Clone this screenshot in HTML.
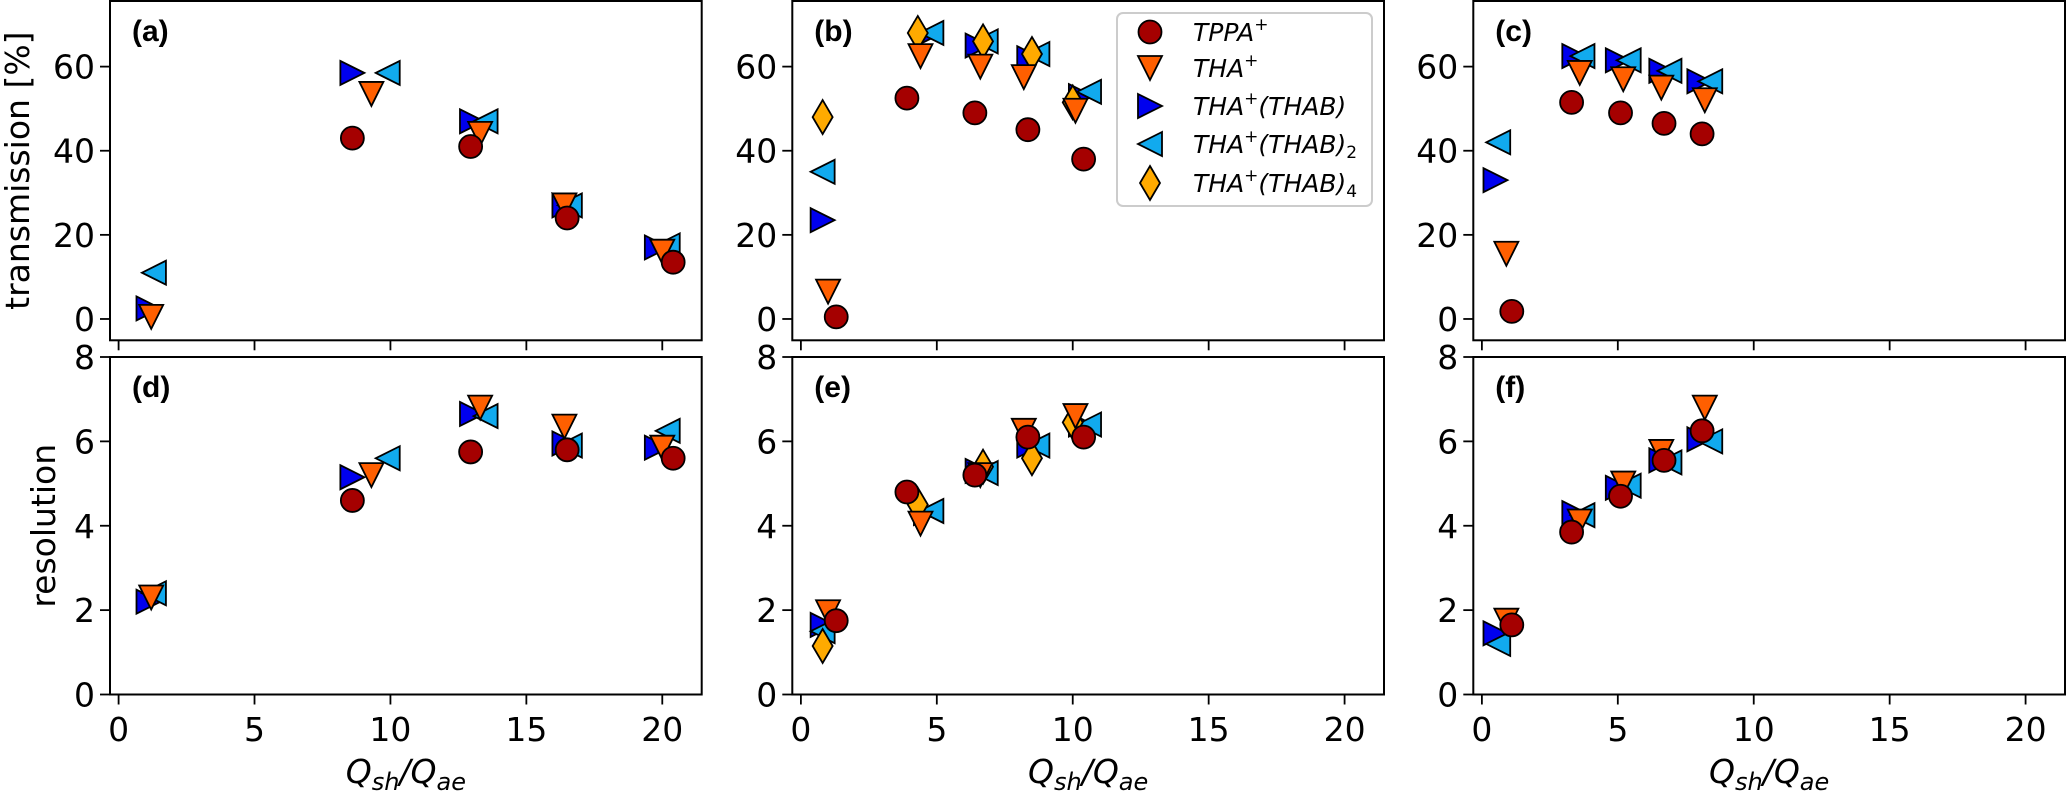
<!DOCTYPE html>
<html><head><meta charset="utf-8">
<style>
html,body{margin:0;padding:0;background:#fff;}
svg{display:block;font-family:"DejaVu Sans","Liberation Sans",sans-serif;}
</style></head>
<body>
<svg id="fig" width="2067" height="792" viewBox="0 0 2067 792" xmlns="http://www.w3.org/2000/svg"></svg>
<script>
// ---- data ----
const seriesNames = ["TPPA", "THA", "THA(THAB)", "THA(THAB)2", "THA(THAB)4"];
const xTicks = [0, 5, 10, 15, 20];
const transTicks = [0, 20, 40, 60];
const resTicks = [0, 2, 4, 6, 8];
// panel a/d
const aX_TPPA = [8.6, 12.95, 16.5, 20.4];
const aT_TPPA = [43, 41, 24, 13.5];
const aR_TPPA = [4.6, 5.75, 5.8, 5.6];
const aX_THA = [1.2, 9.3, 13.3, 16.4, 20.0];
const aT_THA = [0.5, 53.5, 44, 27, 16];
const aR_THA = [2.3, 5.2, 6.8, 6.35, 5.85];
const aX_B1 = [1.1, 8.6, 13.0, 16.4, 19.8];
const aT_B1 = [2.5, 58.5, 47, 27, 17];
const aR_B1 = [2.2, 5.15, 6.65, 5.95, 5.85];
const aX_B2 = [1.3, 9.9, 13.5, 16.6, 20.2];
const aT_B2 = [11, 58.5, 47, 27, 17.5];
const aR_B2 = [2.4, 5.6, 6.6, 5.9, 6.25];
// panel b/e
const bX_TPPA = [1.3, 3.9, 6.4, 8.35, 10.4];
const bT_TPPA = [0.5, 52.5, 49, 45, 38];
const bR_TPPA = [1.75, 4.8, 5.2, 6.1, 6.1];
const bX_THA = [1.0, 4.4, 6.6, 8.2, 10.1];
const bT_THA = [6.5, 62.5, 60, 57.5, 49.5];
const bR_THA = [1.95, 4.05, 5.2, 6.25, 6.6];
const bX_B1 = [0.8, 4.6, 6.5, 8.4, 10.3];
const bT_B1 = [23.5, 67.5, 65, 62, 53];
const bR_B1 = [1.65, 4.3, 5.3, 5.9, 6.4];
const bX_B2 = [0.8, 4.8, 6.8, 8.7, 10.6];
const bT_B2 = [35, 68, 66, 63, 54];
const bR_B2 = [1.5, 4.35, 5.25, 5.9, 6.4];
const bX_B4 = [0.8, 4.3, 6.7, 8.5, 10.0];
const bT_B4 = [48, 68, 66, 63, 51.5];
const bR_B4 = [1.15, 4.5, 5.4, 5.6, 6.45];
// panel c/f
const cX_TPPA = [1.1, 3.3, 5.1, 6.7, 8.1];
const cT_TPPA = [1.8, 51.5, 49, 46.5, 44];
const cR_TPPA = [1.65, 3.85, 4.7, 5.55, 6.25];
const cX_THA = [0.9, 3.6, 5.2, 6.6, 8.2];
const cT_THA = [15.5, 58.5, 57, 55, 52];
const cR_THA = [1.75, 4.1, 5.0, 5.75, 6.8];
const cX_B1 = [0.5, 3.4, 5.0, 6.6, 8.0];
const cT_B1 = [33, 62.5, 61.5, 59, 56.5];
const cR_B1 = [1.45, 4.3, 4.9, 5.55, 6.05];
const cX_B2 = [0.6, 3.7, 5.4, 6.9, 8.4];
const cT_B2 = [42, 62.5, 61.5, 59, 56.5];
const cR_B2 = [1.2, 4.25, 4.95, 5.5, 6.0];

const NS = "http://www.w3.org/2000/svg";
const svg = document.getElementById("fig");
function mk(tag, attrs, parent) {
  const e = document.createElementNS(NS, tag);
  for (const k in attrs) e.setAttribute(k, attrs[k]);
  (parent || svg).appendChild(e);
  return e;
}
const COL = {TPPA:"#a50000", THA:"#ff5f00", B1:"#0000ee", B2:"#11aaee", B4:"#ffaa00"};
const panelLefts = [110, 792.3, 1473.3];
const PW = 591.7;
const XMIN = -0.316, XMAX = 21.45;
const top1 = 1, bot1 = 340.3, TMIN = -5.07, TMAX = 75.6;
const top2 = 357, bot2 = 694.5, RMIN = 0, RMAX = 8;

function sx(L, v) { return L + (v - XMIN) / (XMAX - XMIN) * PW; }
function syT(v) { return bot1 - (v - TMIN) / (TMAX - TMIN) * (bot1 - top1); }
function syR(v) { return bot2 - (v - RMIN) / (RMAX - RMIN) * (bot2 - top2); }

function marker(kind, cx, cy, g) {
  const h = 12;
  let e;
  const st = {stroke:"#000", "stroke-width":"1.8", "stroke-linejoin":"miter"};
  if (kind === "TPPA") {
    e = mk("circle", Object.assign({cx:cx, cy:cy, r:11.5, fill:COL.TPPA}, st), g);
  } else if (kind === "THA") {
    e = mk("polygon", Object.assign({points:`${cx-h},${cy-h} ${cx+h},${cy-h} ${cx},${cy+h}`, fill:COL.THA}, st), g);
  } else if (kind === "B1") {
    e = mk("polygon", Object.assign({points:`${cx-h},${cy-h} ${cx+h},${cy} ${cx-h},${cy+h}`, fill:COL.B1}, st), g);
  } else if (kind === "B2") {
    e = mk("polygon", Object.assign({points:`${cx+h},${cy-h} ${cx-h},${cy} ${cx+h},${cy+h}`, fill:COL.B2}, st), g);
  } else {
    e = mk("polygon", Object.assign({points:`${cx},${cy-17} ${cx+10},${cy} ${cx},${cy+17} ${cx-10},${cy}`, fill:COL.B4}, st), g);
  }
  return e;
}

function drawSeries(L, kind, xs, ys, sy, name) {
  const g = mk("g", {});
  
  
  for (let i = 0; i < xs.length; i++) {
    const m = marker(kind, sx(L, xs[i]), sy(ys[i]), g);
    
    
  }
}

function axes(L, top, bot, ticks, sy, label, showYLabel, yl, ylx) {
  const g = mk("g", {});
  
  
  const fr = mk("rect", {x:L, y:top, width:PW, height:bot-top, fill:"none", stroke:"#000", "stroke-width":"2"}, g);
  
  
  ticks.forEach(t => {
    const y = sy(t);
    mk("line", {x1:L-10, x2:L, y1:y, y2:y, stroke:"#000", "stroke-width":"1.8"}, g);
    const tx = mk("text", {x:L-15, y:y+12, "text-anchor":"end", "font-size":"33", fill:"#000"}, g);
    tx.textContent = t;
    
    
  });
  xTicks.forEach(t => {
    const x = sx(L, t);
    mk("line", {x1:x, x2:x, y1:bot, y2:bot+10, stroke:"#000", "stroke-width":"1.8"}, g);
    if (bot > 400) {
      const tx = mk("text", {x:x, y:741, "text-anchor":"middle", "font-size":"33", fill:"#000"}, g);
      tx.textContent = t;
      
      
    }
  });
  const pl = mk("text", {x:L+22, y:top+40, "font-size":"30", "font-weight":"bold", "font-family":"Liberation Sans, sans-serif", fill:"#000"}, g);
  pl.textContent = "(" + label + ")";
  
  
  if (showYLabel) {
    const cy = (top + bot) / 2;
    const t = mk("text", {x:ylx, y:cy, transform:`rotate(-90 ${ylx} ${cy})`, "text-anchor":"middle", "font-size":"33", fill:"#000"}, g);
    t.textContent = yl;
    
    
  }
  if (bot > 400) {
    const cx = L + PW / 2;
    const t = mk("text", {x:cx, y:783, "text-anchor":"middle", "font-size":"33", "font-style":"italic", fill:"#000"}, g);
    t.innerHTML = 'Q<tspan font-size="24" dy="7">sh</tspan><tspan dy="-7">/Q</tspan><tspan font-size="24" dy="7">ae</tspan>';
    
    
  }
}

const labs = [["a","d"],["b","e"],["c","f"]];
panelLefts.forEach((L, i) => {
  axes(L, top1, bot1, transTicks, syT, labs[i][0], i === 0, "transmission [%]", 29);
  axes(L, top2, bot2, resTicks, syR, labs[i][1], i === 0, "resolution", 55);
});

// panel a / d
let L = panelLefts[0];
drawSeries(L, "B1", aX_B1, aT_B1, syT, "tha-thab-a");
drawSeries(L, "B2", aX_B2, aT_B2, syT, "tha-thab2-a");
drawSeries(L, "THA", aX_THA, aT_THA, syT, "tha-a");
drawSeries(L, "TPPA", aX_TPPA, aT_TPPA, syT, "tppa-a");
drawSeries(L, "B1", aX_B1, aR_B1, syR, "tha-thab-d");
drawSeries(L, "B2", aX_B2, aR_B2, syR, "tha-thab2-d");
drawSeries(L, "THA", aX_THA, aR_THA, syR, "tha-d");
drawSeries(L, "TPPA", aX_TPPA, aR_TPPA, syR, "tppa-d");
// panel b / e
L = panelLefts[1];
drawSeries(L, "B1", bX_B1, bT_B1, syT, "tha-thab-b");
drawSeries(L, "B2", bX_B2, bT_B2, syT, "tha-thab2-b");
drawSeries(L, "B4", bX_B4, bT_B4, syT, "tha-thab4-b");
drawSeries(L, "THA", bX_THA, bT_THA, syT, "tha-b");
drawSeries(L, "TPPA", bX_TPPA, bT_TPPA, syT, "tppa-b");
drawSeries(L, "B1", bX_B1, bR_B1, syR, "tha-thab-e");
drawSeries(L, "B2", bX_B2, bR_B2, syR, "tha-thab2-e");
drawSeries(L, "B4", bX_B4, bR_B4, syR, "tha-thab4-e");
drawSeries(L, "THA", bX_THA, bR_THA, syR, "tha-e");
drawSeries(L, "TPPA", bX_TPPA, bR_TPPA, syR, "tppa-e");
// panel c / f
L = panelLefts[2];
drawSeries(L, "B1", cX_B1, cT_B1, syT, "tha-thab-c");
drawSeries(L, "B2", cX_B2, cT_B2, syT, "tha-thab2-c");
drawSeries(L, "THA", cX_THA, cT_THA, syT, "tha-c");
drawSeries(L, "TPPA", cX_TPPA, cT_TPPA, syT, "tppa-c");
drawSeries(L, "B1", cX_B1, cR_B1, syR, "tha-thab-f");
drawSeries(L, "B2", cX_B2, cR_B2, syR, "tha-thab2-f");
drawSeries(L, "THA", cX_THA, cR_THA, syR, "tha-f");
drawSeries(L, "TPPA", cX_TPPA, cR_TPPA, syR, "tppa-f");

// legend
const lg = mk("g", {});


const lbox = mk("rect", {x:1117, y:13, width:255, height:193, rx:6, fill:"#fff", "fill-opacity":"0.85", stroke:"#cccccc", "stroke-width":"2"}, lg);


const legKinds = ["TPPA", "THA", "B1", "B2", "B4"];
const legHTML = [
  'TPPA<tspan font-size="17" dy="-11" font-style="normal">+</tspan>',
  'THA<tspan font-size="17" dy="-11" font-style="normal">+</tspan>',
  'THA<tspan font-size="17" dy="-11" font-style="normal">+</tspan><tspan dy="11">(THAB)</tspan>',
  'THA<tspan font-size="17" dy="-11" font-style="normal">+</tspan><tspan dy="11">(THAB)</tspan><tspan font-size="17" dy="5" font-style="normal">2</tspan>',
  'THA<tspan font-size="17" dy="-11" font-style="normal">+</tspan><tspan dy="11">(THAB)</tspan><tspan font-size="17" dy="5" font-style="normal">4</tspan>'
];
const legY = [32, 68, 106, 144, 183];
legKinds.forEach((k, i) => {
  const m = marker(k, 1150, legY[i], lg);
  
  
  const t = mk("text", {x:1193, y:legY[i]+9, "font-size":"25", "font-style":"italic", fill:"#000"}, lg);
  t.innerHTML = legHTML[i];
  
  
});
</script>
</body></html>
